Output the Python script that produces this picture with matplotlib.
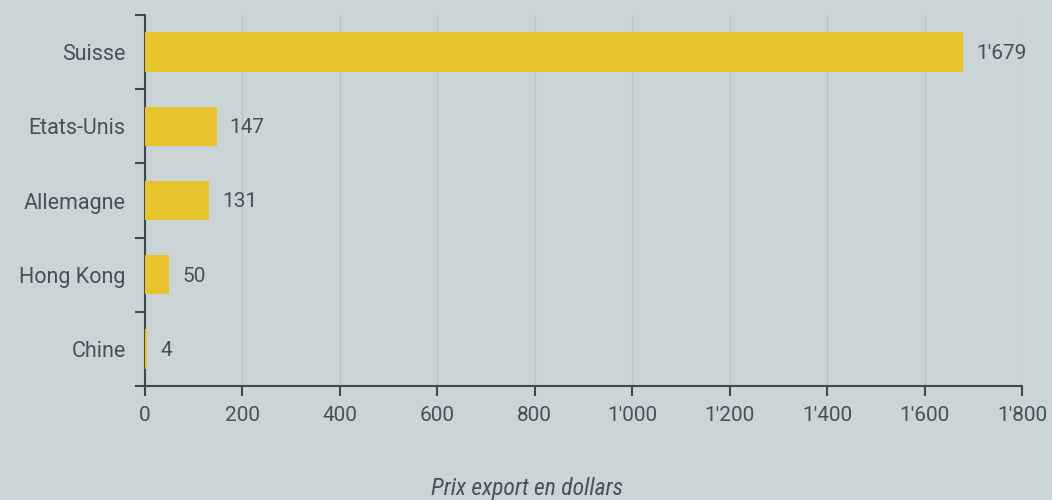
import matplotlib
matplotlib.use('Agg')
import matplotlib.pyplot as plt
import numpy as np
from matplotlib.ticker import FuncFormatter

countries = ['Suisse', 'Etats-Unis', 'Allemagne', 'Hong Kong', 'Chine']
prices = [1679, 147, 131, 50, 4]
xticks = [0, 200, 400, 600, 800, 1000, 1200, 1400, 1600, 1800]

bg = '#cbd5d8'
bar_col = '#e8c42c'
txt = '#44525c'
axis_col = '#3d4a52'

plt.rcParams['font.family'] = ['Roboto', 'DejaVu Sans']


def fmt(v, pos=None):
    return '{:,}'.format(int(v)).replace(',', "'")


fig = plt.figure(figsize=(10.52, 5), dpi=100, facecolor=bg)
ax = fig.add_axes([0.1378, 0.228, 0.8337, 0.742], facecolor=bg)

y = np.arange(len(countries))
ax.barh(y, prices, height=0.53, color=bar_col, zorder=3)
for yi, v in zip(y, prices):
    ax.annotate(fmt(v), (v, yi), xytext=(9.5, -1), textcoords='offset points',
                va='center', ha='left', fontsize=15, color=txt)

ax.set_ylim(len(countries) - 0.5, -0.5)
ax.set_xlim(0, 1800)
ax.set_xticks(xticks)
ax.xaxis.set_major_formatter(FuncFormatter(fmt))
ax.set_yticks(np.arange(-0.5, len(countries), 1))
ax.set_yticklabels([])
ax.set_yticks(y, minor=True)
ax.set_yticklabels(countries, minor=True)
ax.tick_params(axis='y', which='minor', length=0, pad=14, labelsize=15.5, labelcolor=txt)
ax.tick_params(axis='y', which='major', length=7, width=1.5, color=axis_col)
ax.tick_params(axis='x', length=7, width=1.5, color=axis_col, labelsize=15, labelcolor=txt, pad=7.5)

ax.grid(axis='x', color='#bac3c7', linewidth=1, zorder=0)
for s in ['top', 'right']:
    ax.spines[s].set_visible(False)
for s in ['left', 'bottom']:
    ax.spines[s].set_color(axis_col)
    ax.spines[s].set_linewidth(1.5)

fig.text(0.501, 0.024, 'Prix export en dollars', ha='center', va='center',
         fontsize=17, style='italic', color=txt,
         family=['Liberation Sans Narrow', 'Roboto Condensed', 'Roboto'])

fig.savefig('out.png', dpi=100, facecolor=bg)
